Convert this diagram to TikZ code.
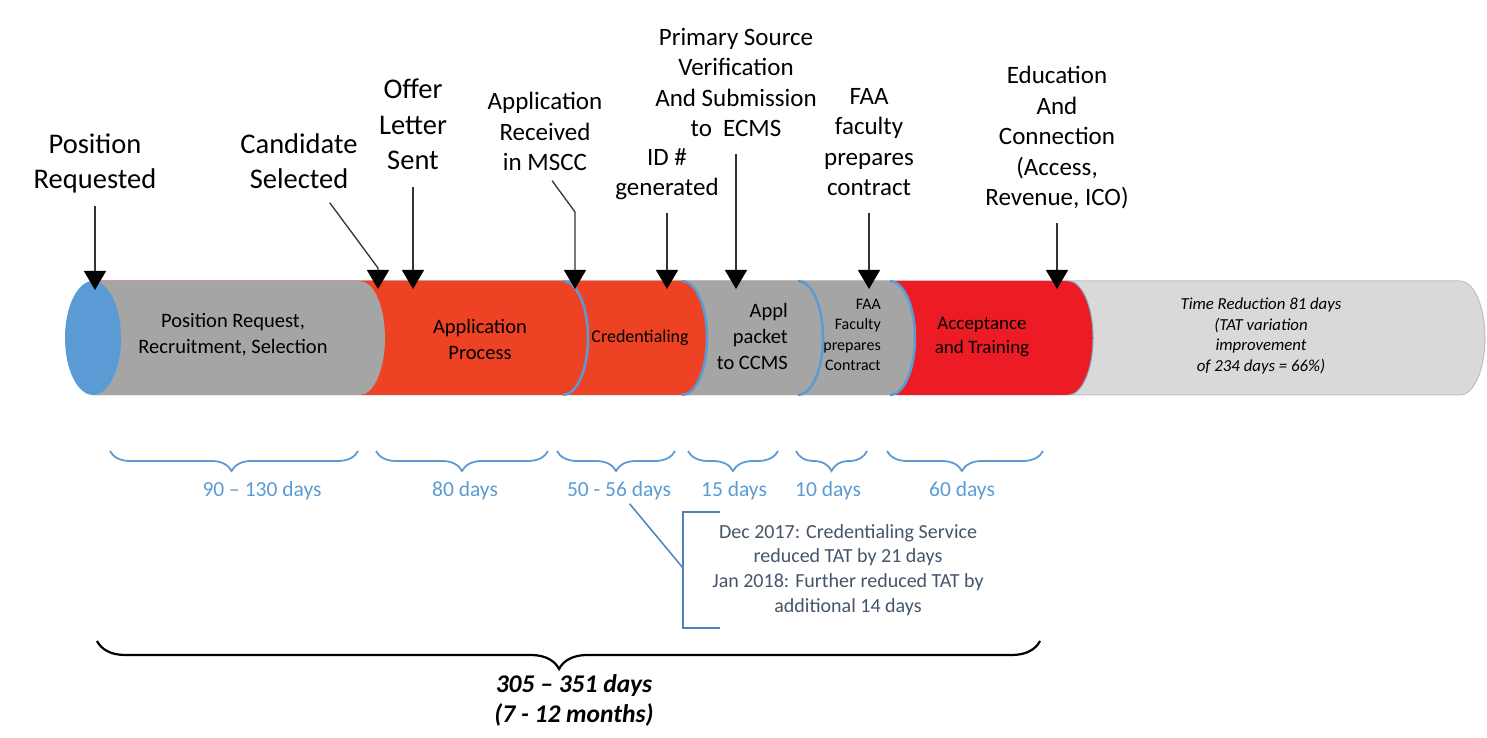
\documentclass[tikz,border=0pt]{standalone}
\usepackage{fontspec}
\setmainfont{Carlito}
\usetikzlibrary{arrows.meta,decorations.pathreplacing}

\definecolor{segblue}{HTML}{5B9BD5}
\definecolor{seggray}{HTML}{A5A5A5}
\definecolor{segorange}{HTML}{EE4224}
\definecolor{segred}{HTML}{ED1C24}
\definecolor{seglight}{HTML}{D9D9D9}
\definecolor{segedge}{HTML}{BFBFBF}
\definecolor{notetext}{HTML}{44546A}
\definecolor{notebar}{HTML}{4F81BD}

\begin{document}
\begin{tikzpicture}[
                x=1pt, y=1pt,
                toplbl/.style={
                  align=center,
                  anchor=south,
                  inner sep=0pt,
                  text depth=0pt,
                  font=\fontsize{28.5}{35.5}\selectfont,
                },
                midlbl/.style={toplbl, font=\fontsize{25}{30.5}\selectfont},
                pin/.style={
                  draw=black!80,
                  line width=1.3pt,
                  shorten <=17pt,
                  -{Triangle[width=22pt,length=19pt,color=black]},
                },
                seglbl/.style={align=center, inner sep=0pt, font=\fontsize{20.5}{26}\selectfont},
                seam/.style={segblue, line width=2.5pt},
                span/.style={
                  segblue,
                  line width=1.8pt,
                  decorate,
                  decoration={brace, mirror, amplitude=20pt},
                },
                spanlbl/.style={text=segblue, font=\fontsize{21.5}{26}\selectfont},
              ]
              \useasboundingbox (0,0) rectangle (1487,738);

              % the tube, drawn right to left
              \fill[seglight, draw=segedge, line width=1pt] (93,457) -- (1460,457)
                arc[start angle=90, end angle=-90, x radius=25, y radius=57] -- (93,343) -- cycle;
              \foreach \cx/\col in {1068/segred, 890/seggray, 798/seggray, 682/segorange, 563/segorange, 360/seggray}
                \fill[\col] (93,457) -- (\cx,457)
                  arc[start angle=90, end angle=-90, x radius=25, y radius=57] -- (93,343) -- cycle;
              \foreach \cx in {563, 682, 798, 890}
                \draw[seam] (\cx,457) arc[start angle=90, end angle=-90, x radius=25, y radius=57];
              \draw[segblue!50!seggray, line width=1pt] (1068,457) arc[start angle=90, end angle=-90, x radius=25, y radius=57];
              \fill[segblue] (93,400) ellipse[x radius=28, y radius=57];

              \node[seglbl] (prs) at (233,403) {Position Request,\\Recruitment, Selection};
              \node[seglbl] (apl) at (480,399) {Application\\Process};
              \node[seglbl, font=\fontsize{18}{22}\selectfont] (crd) at (640,400) {Credentialing};
              \node[seglbl, align=right, anchor=east] (pkt) at (788,402) {Appl\\packet\\to CCMS};
              \node[seglbl, align=right, anchor=east, font=\fontsize{16}{20.5}\selectfont] (fac) at (881,403) {FAA\\Faculty\\prepares\\Contract};
              \node[seglbl, font=\fontsize{19}{23.5}\selectfont] (acc) at (982,401) {Acceptance\\and Training};
              \node[seglbl, font=\fontsize{16.8}{20.7}\selectfont\itshape] (cut) at (1261,402) {Time Reduction 81 days\\(TAT variation\\improvement\\of 234 days = 66\%)};

              % milestones
              \node[toplbl] (pr) at (95,549) {Position\\Requested};
              \node[toplbl] (cs) at (299,549) {Candidate\\Selected};
              \node[toplbl] (ol) at (413,568) {Offer\\Letter\\Sent};
              \node[midlbl] (ar) at (545,567) {Application\\Received\\in MSCC};
              \node[midlbl] (id) at (667,542) {ID \#\\generated};
              \node[midlbl] (ps) at (736,601) {Primary Source\\Verification\\And Submission\\to\ \ ECMS};
              \node[midlbl] (ff) at (869,542) {FAA\\faculty\\prepares\\contract};
              \node[midlbl] (ed) at (1057,532) {Education\\And\\Connection\\(Access,\\Revenue, ICO)};

              \coordinate (prtip) at (95,448);
              \coordinate (csbend) at (378,470);
              \coordinate (cstip) at (378,449);
              \coordinate (oltip) at (413,449);
              \coordinate (arbend) at (575,526);
              \coordinate (artip) at (575,449);
              \coordinate (idtip) at (667,449);
              \coordinate (pstip) at (736,449);
              \coordinate (fftip) at (869,449);
              \coordinate (edtip) at (1057,449);

              \draw[pin] (pr) -- (prtip);
              \draw[pin] (cs) -- (csbend) -- (cstip);
              \draw[pin] (ol) -- (oltip);
              \draw[pin, shorten <=12pt] (ar.south) -- (arbend) -- (artip);
              \draw[pin] (id) -- (idtip);
              \draw[pin] (ps) -- (pstip);
              \draw[pin] (ff) -- (fftip);
              \draw[pin] (ed) -- (edtip);

              % durations
              \draw[span, decoration={aspect=0.49}] (110,287) -- (358,287);
              \draw[span] (376,287) -- (548,287);
              \draw[span] (557,287) -- (675,287);
              \draw[span] (688,287) -- (778,287);
              \draw[span] (796,287) -- (867,287);
              \draw[span, decoration={aspect=0.48}] (887,287) -- (1043,287);
              \node[spanlbl] (d1) at (262,247) {90 – 130 days};
              \node[spanlbl] (d2) at (465,247) {80 days};
              \node[spanlbl] (d3) at (619,247) {50 - 56 days};
              \node[spanlbl] (d4) at (734,247) {15 days};
              \node[spanlbl] (d5) at (828,247) {10 days};
              \node[spanlbl] (d6) at (962,247) {60 days};

              % note on credentialing
              \node[align=center, text=notetext, font=\fontsize{20}{24.7}\selectfont] (note) at (848,168)
                {Dec 2017: Credentialing Service\\reduced TAT by 21 days\\Jan 2018: Further reduced TAT by\\additional 14 days};
              \coordinate (brk) at (683,170);
              \draw[notebar, line width=1.8pt] (720,226) -- (683,226) -- (683,110) -- (720,110);
              \draw[notebar, line width=1.5pt] (d3) -- (brk);

              % total
              \draw[black, line width=2.2pt, decorate, decoration={brace, mirror, amplitude=28pt, aspect=0.49}] (97,97) -- (1040,97);
              \node[align=center, font=\fontsize{25.5}{30}\selectfont\bfseries\itshape] (tot) at (574,38) {305 – 351 days\\(7 - 12 months)};
              \end{tikzpicture}
\end{document}
